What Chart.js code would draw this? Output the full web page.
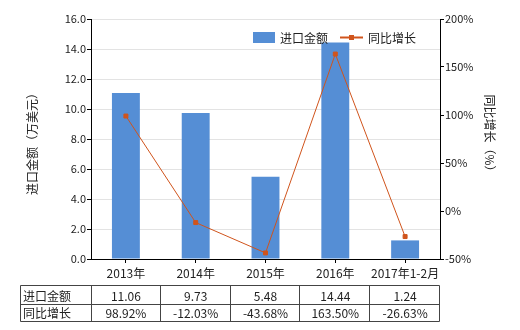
<!DOCTYPE html>
<html>
<head>
<meta charset="utf-8">
<script src="https://cdn.jsdelivr.net/npm/chart.js@4/dist/chart.umd.min.js"></script>
<style>
html,body{margin:0;padding:0;background:#fff;}
canvas{display:block;}
</style>
</head>
<body>
<canvas id="c" width="520" height="330"></canvas>
<script>
const categories = ['2013年', '2014年', '2015年', '2016年', '2017年1-2月'];
const importValues = [11.06, 9.73, 5.48, 14.44, 1.24];
const growthValues = [98.92, -12.03, -43.68, 163.50, -26.63];
const importLabels = ['11.06', '9.73', '5.48', '14.44', '1.24'];
const growthLabels = ['98.92%', '-12.03%', '-43.68%', '163.50%', '-26.63%'];
const seriesNames = ['进口金额', '同比增长'];
const leftTitle = '进口金额（万美元）';
const rightTitle = '同比增长（%）';

const BAR = '#558ED5';
const LINE = '#D0541C';
const FONT = '"Noto Sans CJK SC", "Noto Sans", sans-serif';
const TXT = '#222';

const extras = {
  id: 'extras',
  afterDraw(chart) {
    const ctx = chart.ctx;
    const area = chart.chartArea;
    const xs = chart.scales.x;
    ctx.save();
    // axis titles
    ctx.fillStyle = TXT;
    ctx.font = '12px ' + FONT;
    ctx.textAlign = 'center';
    ctx.textBaseline = 'middle';
    ctx.save();
    ctx.translate(32, 141);
    ctx.rotate(-Math.PI / 2);
    ctx.fillText(leftTitle, 0, 0);
    ctx.restore();
    ctx.save();
    ctx.translate(490, 136);
    ctx.rotate(Math.PI / 2);
    ctx.fillText(rightTitle, 0, 0);
    ctx.restore();

    // legend
    ctx.fillStyle = BAR;
    ctx.fillRect(253, 32, 22, 11);
    ctx.fillStyle = TXT;
    ctx.textAlign = 'left';
    ctx.fillText(seriesNames[0], 280, 38);
    ctx.strokeStyle = LINE;
    ctx.lineWidth = 2;
    ctx.beginPath();
    ctx.moveTo(340, 37.5);
    ctx.lineTo(363, 37.5);
    ctx.stroke();
    ctx.fillStyle = LINE;
    ctx.fillRect(349, 35, 5, 5);
    ctx.fillStyle = TXT;
    ctx.fillText(seriesNames[1], 368, 38);

    // data table
    const n = categories.length;
    const step = xs.getPixelForTick(1) - xs.getPixelForTick(0);
    const x0 = 20.5;
    const x1 = Math.round(area.left) + 0.5;
    const xe = Math.round(xs.getPixelForTick(n - 1) + step / 2) - 0.5;
    const yTop = 285.5, yMid = 304.5, yBot = 321.5;
    ctx.strokeStyle = '#444';
    ctx.lineWidth = 1;
    ctx.beginPath();
    [yTop, yMid, yBot].forEach(y => { ctx.moveTo(x0, y); ctx.lineTo(xe, y); });
    ctx.moveTo(x0, yTop); ctx.lineTo(x0, yBot);
    ctx.moveTo(x1, yTop); ctx.lineTo(x1, yBot);
    for (let i = 0; i < n; i++) {
      const xb = Math.round(xs.getPixelForTick(i) + step / 2) - 0.5;
      ctx.moveTo(xb, yTop); ctx.lineTo(xb, yBot);
    }
    ctx.stroke();
    ctx.fillStyle = TXT;
    ctx.font = '12px ' + FONT;
    ctx.textAlign = 'left';
    ctx.fillText(seriesNames[0], 23, (yTop + yMid) / 2 + 1);
    ctx.fillText(seriesNames[1], 23, (yMid + yBot) / 2);
    ctx.textAlign = 'center';
    for (let i = 0; i < n; i++) {
      const cx = xs.getPixelForTick(i);
      ctx.fillText(importLabels[i], cx, (yTop + yMid) / 2 + 1);
      ctx.fillText(growthLabels[i], cx, (yMid + yBot) / 2);
    }
    ctx.restore();
  }
};

new Chart(document.getElementById('c'), {
  data: {
    labels: categories,
    datasets: [
      {
        type: 'line',
        label: seriesNames[1],
        data: growthValues,
        yAxisID: 'y1',
        borderColor: LINE,
        borderWidth: 1,
        backgroundColor: LINE,
        pointStyle: 'rect',
        pointRadius: 2.8,
        pointBackgroundColor: LINE,
        pointBorderColor: LINE,
        tension: 0,
        order: 0
      },
      {
        type: 'bar',
        label: seriesNames[0],
        data: importValues,
        yAxisID: 'y',
        backgroundColor: BAR,
        barPercentage: 0.4,
        categoryPercentage: 1.0,
        order: 1
      }
    ]
  },
  options: {
    responsive: false,
    animation: false,
    devicePixelRatio: 1,
    layout: { padding: { top: 19, bottom: 0, left: 0, right: 0 } },
    plugins: { legend: { display: false }, tooltip: { enabled: false } },
    scales: {
      x: {
        afterFit: s => { s.height = 71; },
        grid: { drawOnChartArea: false, offset: false, tickLength: 4, tickColor: '#000' },
        border: { color: '#000', width: 1 },
        ticks: { color: TXT, font: { size: 12, family: FONT }, padding: 3, maxRotation: 0, autoSkip: false }
      },
      y: {
        position: 'left',
        min: 0, max: 16,
        afterFit: s => { s.width = 91; },
        grid: { color: '#e3e3e3', tickLength: 4, tickColor: '#000' },
        border: { color: '#000', width: 1 },
        ticks: { stepSize: 2, color: TXT, font: { size: 11, family: FONT }, padding: 1, callback: v => v.toFixed(1) }
      },
      y1: {
        position: 'right',
        min: -50, max: 200,
        afterFit: s => { s.width = 80; },
        grid: { drawOnChartArea: false, tickLength: 4, tickColor: '#000' },
        border: { color: '#000', width: 1 },
        ticks: { stepSize: 50, color: TXT, font: { size: 11, family: FONT }, padding: 1, callback: v => v + '%' }
      }
    }
  },
  plugins: [extras]
});
</script>
</body>
</html>
